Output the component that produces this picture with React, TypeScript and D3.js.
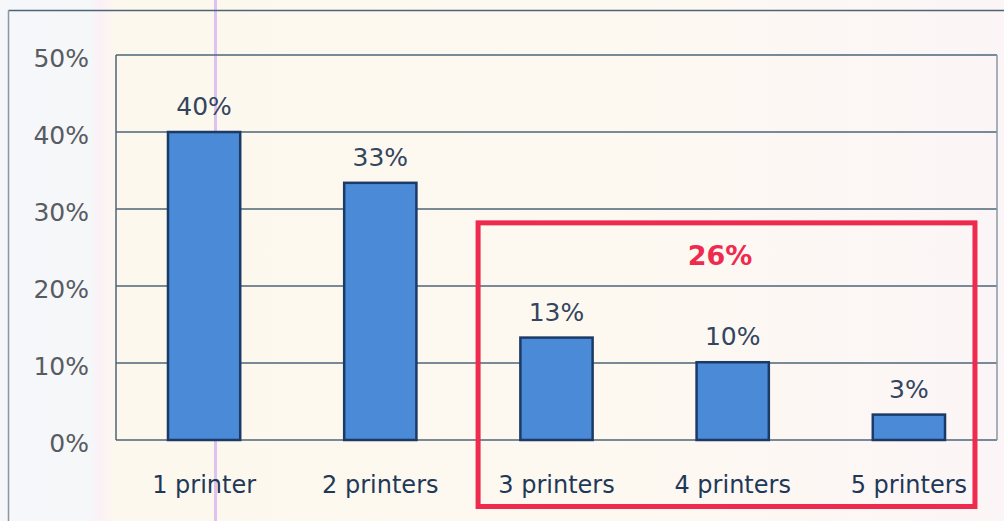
import React from "react";
import * as d3 from "d3";

const categories = ["1 printer", "2 printers", "3 printers", "4 printers", "5 printers"];
const values = [40, 33.4, 13.3, 10.1, 3.3];
const valueLabels = ["40%", "33%", "13%", "10%", "3%"];
const yTicks = [0, 10, 20, 30, 40, 50];
const groupCategories = ["3 printers", "4 printers", "5 printers"];
const groupLabel = "26%";

const W = 1004;
const H = 521;
const plot = { left: 116, right: 997, top: 55, bottom: 440 };
const FONT = "'DejaVu Sans', 'Liberation Sans', sans-serif";

export default function App() {
  const x = d3
    .scaleBand<string>()
    .domain(categories)
    .range([plot.left, plot.right])
    .paddingInner(0.59)
    .paddingOuter(0.295);
  const y = d3.scaleLinear().domain([0, 50]).range([plot.bottom, plot.top]);
  const bw = x.bandwidth();
  const step = x.step();

  const gFirst = x(groupCategories[0])!;
  const gLast = x(groupCategories[groupCategories.length - 1])!;
  const boxLeft = gFirst - step * 0.24;
  const boxRight = gLast + bw + step * 0.17;
  const boxTop = y(28.2);
  const boxBottom = 506.5;

  const gridColor = "#4d6477";

  return (
    <svg
      width={W}
      height={H}
      viewBox={`0 0 ${W} ${H}`}
      style={{ position: "fixed", left: 0, top: 0, display: "block" }}
    >
      <defs>
        <linearGradient id="bg" x1="0" x2="1" y1="0" y2="0">
          <stop offset="0" stopColor="#f6f7fa" />
          <stop offset="0.09" stopColor="#f5f7f9" />
          <stop offset="0.1" stopColor="#fbf1f6" />
          <stop offset="0.115" stopColor="#fdf8ee" />
          <stop offset="0.6" stopColor="#fdf9f0" />
          <stop offset="1" stopColor="#fcf5f7" />
        </linearGradient>
      </defs>
      <rect x={0} y={0} width={W} height={H} fill="url(#bg)" />
      {/* scan artifact stripe */}
      <rect x={214} y={0} width={3} height={H} fill="#d6b4f2" opacity={0.8} />

      {/* outer frame */}
      <line x1={8.5} x2={W} y1={10.5} y2={10.5} stroke={gridColor} strokeWidth={1.5} />
      <line x1={8.5} x2={8.5} y1={10.5} y2={H} stroke="#8a96a0" strokeWidth={1.5} />

      {/* gridlines */}
      {yTicks.map((t) => (
        <line
          key={t}
          x1={plot.left}
          x2={plot.right}
          y1={y(t)}
          y2={y(t)}
          stroke={gridColor}
          strokeWidth={1.5}
        />
      ))}
      <line x1={plot.left} x2={plot.left} y1={plot.top} y2={plot.bottom} stroke={gridColor} strokeWidth={1.5} />
      <line x1={plot.right} x2={plot.right} y1={plot.top} y2={plot.bottom} stroke="#8a98a4" strokeWidth={1.5} />

      {/* y tick labels */}
      {yTicks.map((t) => (
        <text
          key={t}
          x={89}
          y={y(t) + 11.5}
          textAnchor="end"
          fontFamily={FONT}
          fontSize={25}
          fill="#585c62"
        >
          {`${t}%`}
        </text>
      ))}

      {/* bars */}
      {categories.map((c, i) => (
        <g key={c}>
          <rect
            x={x(c)!}
            y={y(values[i])}
            width={bw}
            height={y(0) - y(values[i])}
            fill="#4a8ad6"
            stroke="#1c3a66"
            strokeWidth={2.5}
          />
          <text
            x={x(c)! + bw / 2}
            y={y(values[i]) - 17}
            textAnchor="middle"
            fontFamily={FONT}
            fontSize={25}
            fill="#33455f"
          >
            {valueLabels[i]}
          </text>
          <text
            x={x(c)! + bw / 2}
            y={492.5}
            textAnchor="middle"
            fontFamily={FONT}
            fontSize={24}
            fill="#1f3858"
          >
            {c}
          </text>
        </g>
      ))}

      {/* highlight box */}
      <rect
        x={boxLeft}
        y={boxTop}
        width={boxRight - boxLeft}
        height={boxBottom - boxTop}
        fill="none"
        stroke="#ee2a4e"
        strokeWidth={5}
      />
      <text
        x={720}
        y={265}
        textAnchor="middle"
        fontFamily={FONT}
        fontSize={27}
        fontWeight="bold"
        fill="#ee2a4e"
      >
        {groupLabel}
      </text>
    </svg>
  );
}
